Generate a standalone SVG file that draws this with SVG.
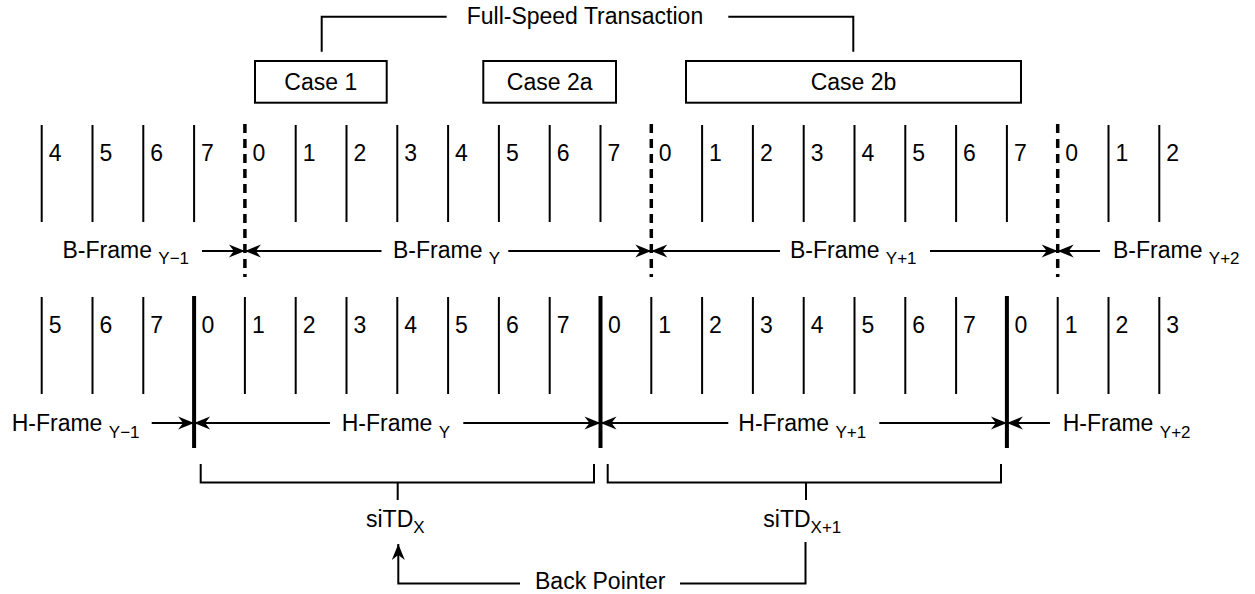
<svg xmlns="http://www.w3.org/2000/svg" width="1255" height="594" viewBox="0 0 1255 594">
<style>
text{font-family:"Liberation Sans",Arial,sans-serif;font-size:23px;fill:#000}
.dg{font-size:23px}
.sub{font-size:17px}
.ln{stroke:#000;stroke-width:2;fill:none}
.thick{stroke:#000;stroke-width:4;fill:none}
.dash{stroke:#000;stroke-width:3.5;stroke-dasharray:9 6;fill:none}
.box{stroke:#000;stroke-width:2;fill:#fff}
.arr{stroke:#000;stroke-width:2;fill:none;marker-end:url(#ah)}
</style>
<defs>
<marker id="ah" viewBox="-17 -8 18 16" refX="0" refY="0" markerWidth="18" markerHeight="16" orient="auto" markerUnits="userSpaceOnUse">
<path d="M0,0 L-16,-6.5 L-11,0 L-16,6.5 Z" fill="#000"/>
</marker>
</defs>
<rect width="1255" height="594" fill="#fff"/>

<g id="title">
<text x="466.7" y="24">Full-Speed Transaction</text>
</g>
<g id="case1"><rect class="box" x="255" y="61" width="131.7" height="41.7"/><text x="320.8" y="90" text-anchor="middle">Case 1</text></g>
<g id="case2a"><rect class="box" x="483.3" y="61" width="132.7" height="41.7"/><text x="549.7" y="90" text-anchor="middle">Case 2a</text></g>
<g id="case2b"><rect class="box" x="686" y="61" width="335" height="41.7"/><text x="853.5" y="90" text-anchor="middle">Case 2b</text></g>

<g id="b-frame-slots">
<path class="ln" d="M41.7,125V222M92.5,125V222M143.3,125V222M194.1,125V222M295.7,125V222M346.5,125V222M397.3,125V222M448.1,125V222M498.9,125V222M549.7,125V222M600.5,125V222M702.1,125V222M752.9,125V222M803.7,125V222M854.5,125V222M905.3,125V222M956.1,125V222M1006.9,125V222M1108.5,125V222M1159.3,125V222"/>
<path class="dash" d="M244.9,124V277M651.3,124V277M1057.7,124V277"/>
<g class="dg">
<text x="48.7" y="161">4</text><text x="99.5" y="161">5</text><text x="150.3" y="161">6</text><text x="201.1" y="161">7</text>
<text x="252.4" y="161">0</text><text x="302.7" y="161">1</text><text x="353.5" y="161">2</text><text x="404.3" y="161">3</text>
<text x="455.1" y="161">4</text><text x="505.9" y="161">5</text><text x="556.7" y="161">6</text><text x="607.5" y="161">7</text>
<text x="658.8" y="161">0</text><text x="709.1" y="161">1</text><text x="759.9" y="161">2</text><text x="810.7" y="161">3</text>
<text x="861.5" y="161">4</text><text x="912.3" y="161">5</text><text x="963.1" y="161">6</text><text x="1013.9" y="161">7</text>
<text x="1065.2" y="161">0</text><text x="1115.5" y="161">1</text><text x="1166.3" y="161">2</text>
</g>
</g>

<g id="b-frame-labels">
<text x="62.5" y="258">B-Frame <tspan class="sub" dy="6">Y−1</tspan></text>
<text x="393" y="258">B-Frame <tspan class="sub" dy="6">Y</tspan></text>
<text x="790" y="258">B-Frame <tspan class="sub" dy="6">Y+1</tspan></text>
<text x="1113" y="258">B-Frame <tspan class="sub" dy="6">Y+2</tspan></text>
</g>

<g id="h-frame-slots">
<path class="ln" d="M41.7,297V394M92.5,297V394M143.3,297V394M244.9,297V394M295.7,297V394M346.5,297V394M397.3,297V394M448.1,297V394M498.9,297V394M549.7,297V394M651.3,297V394M702.1,297V394M752.9,297V394M803.7,297V394M854.5,297V394M905.3,297V394M956.1,297V394M1057.7,297V394M1108.5,297V394M1159.3,297V394"/>
<path class="thick" d="M194.1,296V448M600.5,296V448M1006.9,296V448"/>
<g class="dg">
<text x="48.7" y="333">5</text><text x="99.5" y="333">6</text><text x="150.3" y="333">7</text><text x="201.6" y="333">0</text>
<text x="251.9" y="333">1</text><text x="302.7" y="333">2</text><text x="353.5" y="333">3</text><text x="404.3" y="333">4</text>
<text x="455.1" y="333">5</text><text x="505.9" y="333">6</text><text x="556.7" y="333">7</text><text x="608" y="333">0</text>
<text x="658.3" y="333">1</text><text x="709.1" y="333">2</text><text x="759.9" y="333">3</text><text x="810.7" y="333">4</text>
<text x="861.5" y="333">5</text><text x="912.3" y="333">6</text><text x="963.1" y="333">7</text><text x="1014.4" y="333">0</text>
<text x="1064.7" y="333">1</text><text x="1115.5" y="333">2</text><text x="1166.3" y="333">3</text>
</g>
</g>

<g id="h-frame-labels">
<text x="11.7" y="431">H-Frame <tspan class="sub" dy="7">Y−1</tspan></text>
<text x="341.7" y="431">H-Frame <tspan class="sub" dy="7">Y</tspan></text>
<text x="738.3" y="431">H-Frame <tspan class="sub" dy="7">Y+1</tspan></text>
<text x="1062.7" y="431">H-Frame <tspan class="sub" dy="7">Y+2</tspan></text>
</g>

<g id="sitd-x"><text x="366" y="527">siTD<tspan class="sub" dy="6">X</tspan></text></g>
<g id="sitd-x1"><text x="763.3" y="527">siTD<tspan class="sub" dy="6">X+1</tspan></text></g>
<g id="back-pointer"><text x="535" y="589">Back Pointer</text></g>

<g id="connectors">
<path class="ln" d="M446.7,16.7H321.7V51.7M728.3,16.7H853.3V51.7"/>
<line class="arr" x1="202" y1="251" x2="244.9" y2="251"/>
<line class="arr" x1="381.5" y1="251" x2="244.9" y2="251"/>
<line class="arr" x1="508.3" y1="251" x2="651.3" y2="251"/>
<line class="arr" x1="780" y1="251" x2="651.3" y2="251"/>
<line class="arr" x1="930" y1="251" x2="1057.7" y2="251"/>
<line class="arr" x1="1100" y1="251" x2="1057.7" y2="251"/>
<line class="arr" x1="151.7" y1="423" x2="194.1" y2="423"/>
<line class="arr" x1="330" y1="423" x2="194.1" y2="423"/>
<line class="arr" x1="463.3" y1="423" x2="600.5" y2="423"/>
<line class="arr" x1="728.3" y1="423" x2="600.5" y2="423"/>
<line class="arr" x1="879.3" y1="423" x2="1006.9" y2="423"/>
<line class="arr" x1="1050" y1="423" x2="1006.9" y2="423"/>
<path class="ln" d="M200.7,464V482.5H594V464M397.7,482.5V500"/>
<path class="ln" d="M607.7,464V482.5H1001V464M806,482.5V500"/>
<path class="arr" d="M520,583.5H398.3V544"/>
<path class="ln" d="M680,583.5H805.5V542"/>
</g>
</svg>
